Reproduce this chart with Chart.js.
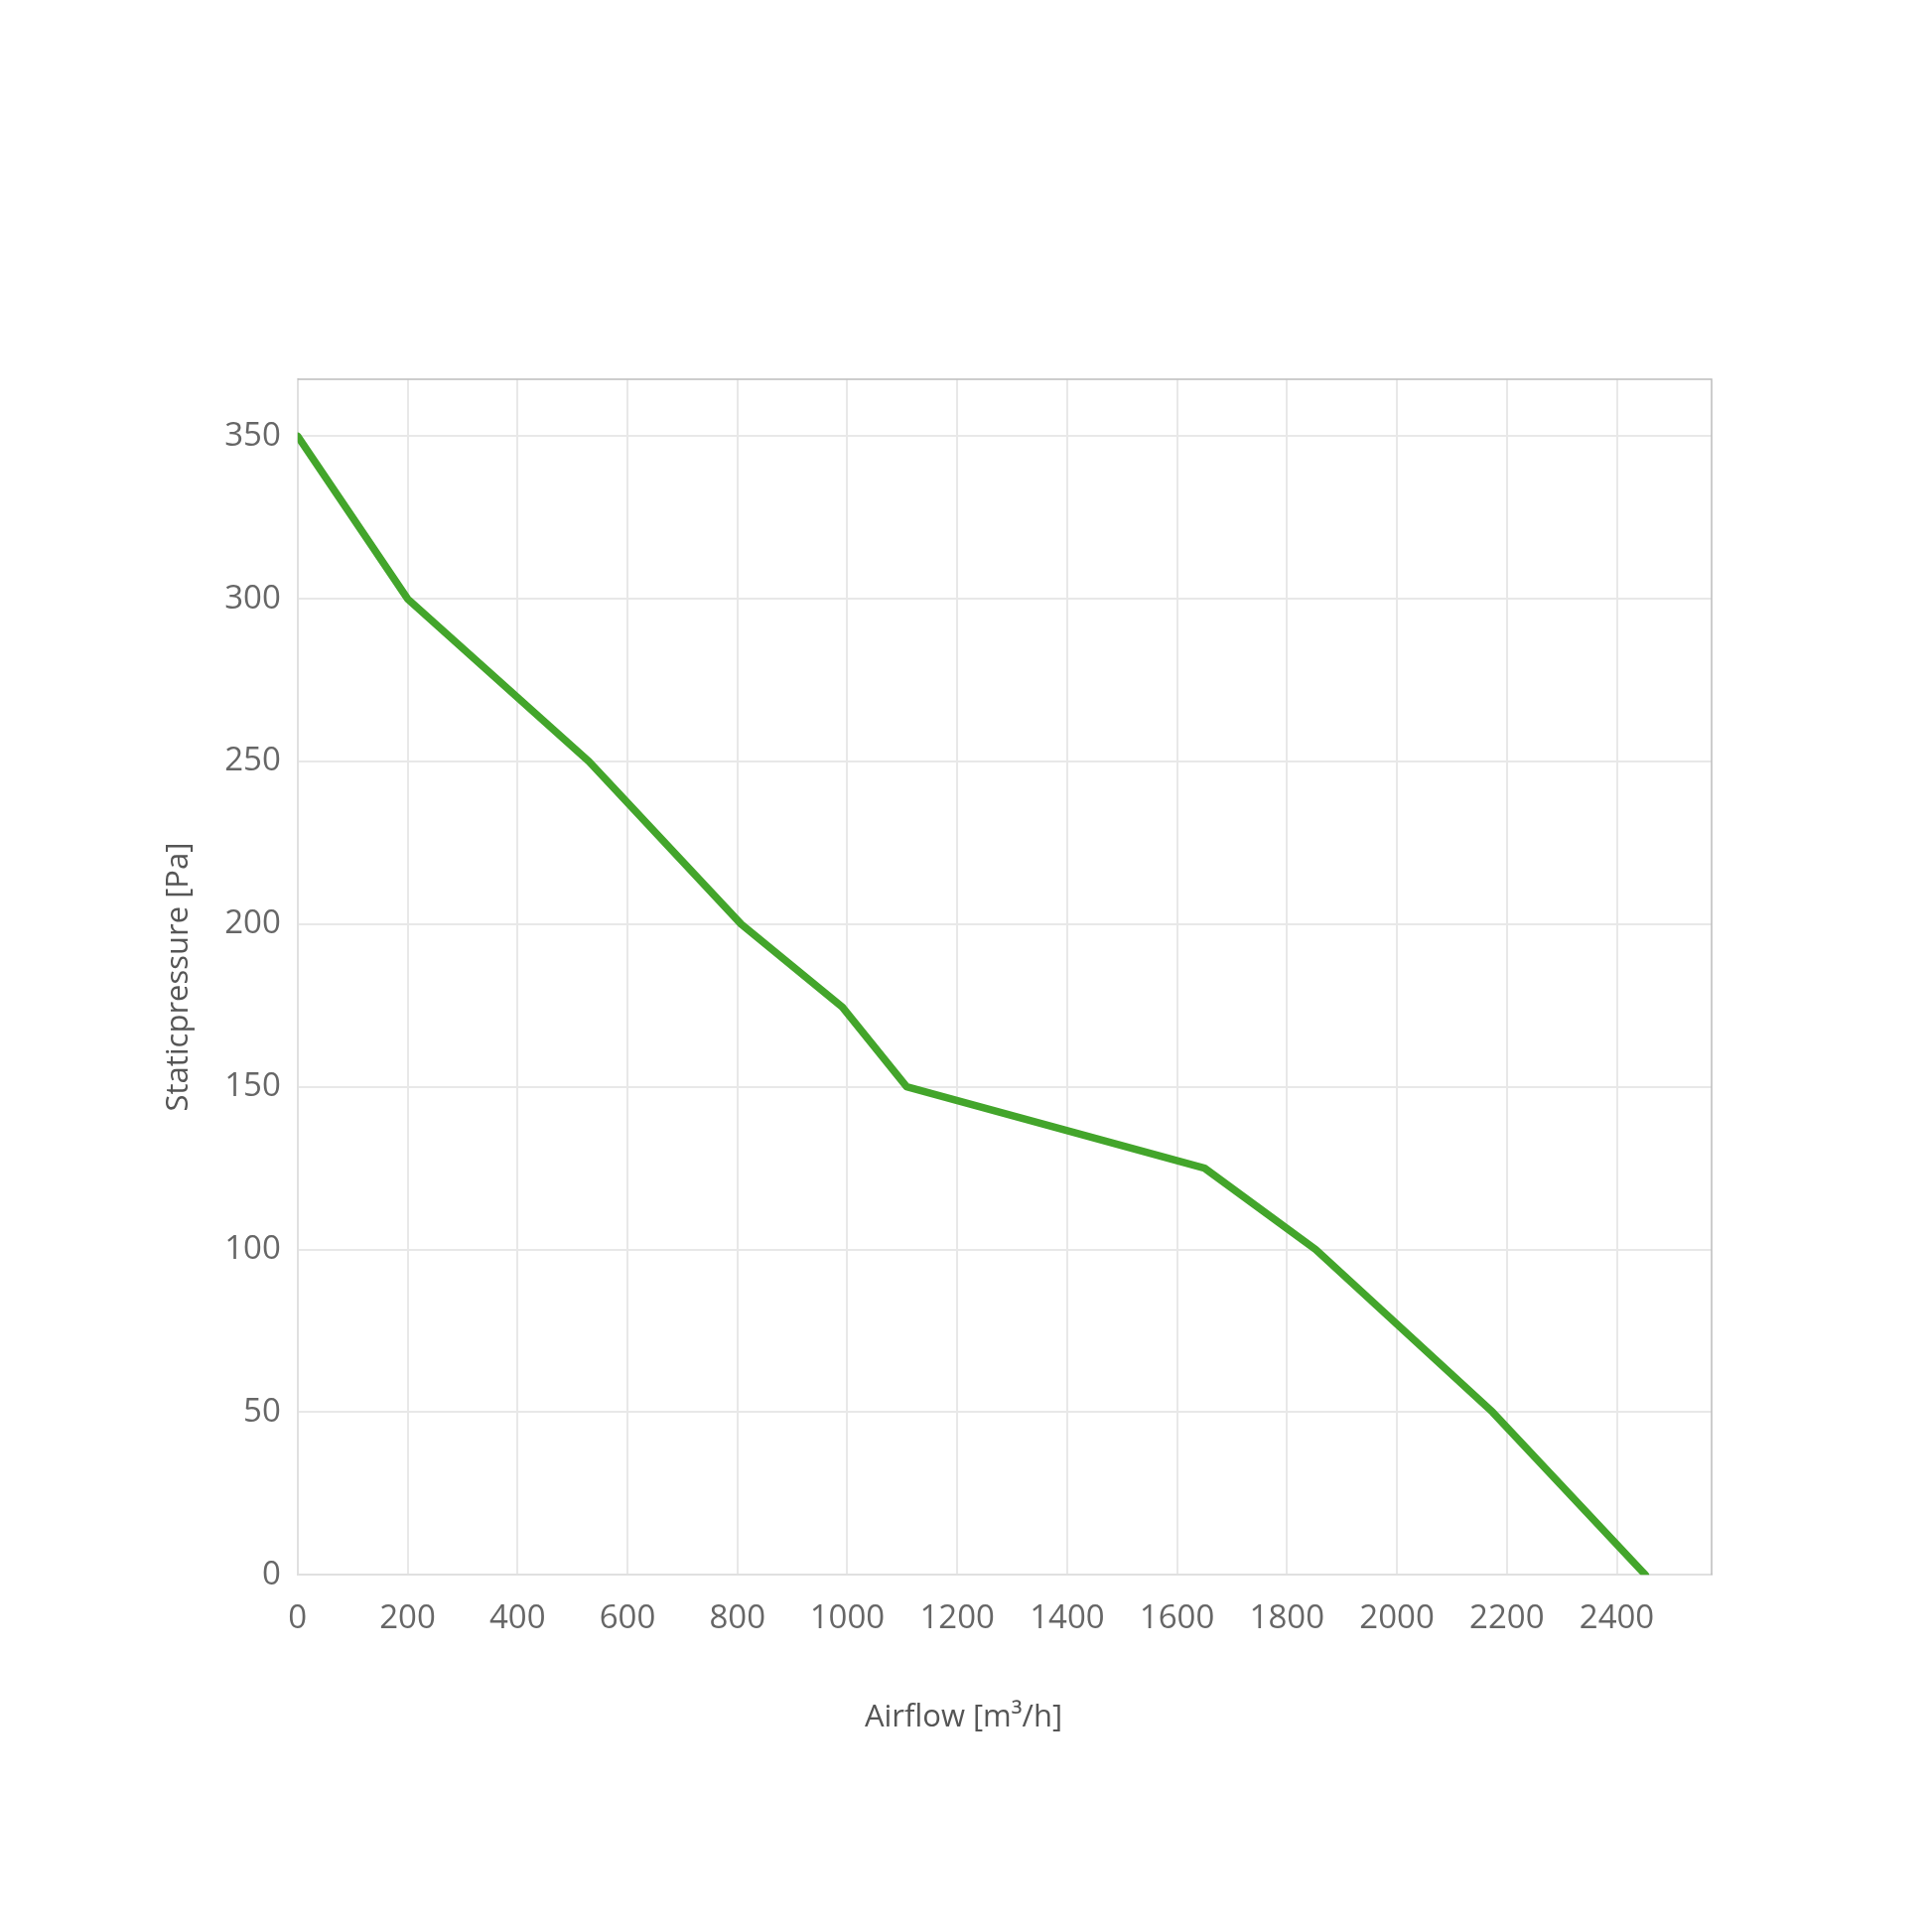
<!DOCTYPE html>
<html>
<head>
<meta charset="utf-8">
<script src="https://cdn.jsdelivr.net/npm/chart.js@4/dist/chart.umd.min.js"></script>
<style>
  html, body { margin: 0; padding: 0; background: #ffffff; }
  #wrap { width: 1946px; height: 1946px; }
</style>
</head>
<body>
<div id="wrap"><canvas id="c" width="1946" height="1946"></canvas></div>
<script>
// Data
const airflow = [0, 200, 530, 807, 991, 1108, 1650, 1852, 2174, 2452];
const staticPressure = [350, 300, 250, 200, 174.5, 150, 125, 100, 50, 0];
const xTickLabels = [0, 200, 400, 600, 800, 1000, 1200, 1400, 1600, 1800, 2000, 2200, 2400];
const yTickLabels = [0, 50, 100, 150, 200, 250, 300, 350];
const xTitle = 'Airflow [m³/h]';
const yTitle = 'Staticpressure [Pa]';
const seriesName = 'Static pressure';

const points = airflow.map((x, i) => ({ x: x, y: staticPressure[i] }));

const fontFamily = '"Open Sans", "Noto Sans", sans-serif';

const frame = {
  id: 'frame',
  afterDraw(chart) {
    const a = chart.chartArea, ctx = chart.ctx;
    ctx.save();
    ctx.strokeStyle = '#bdbdbd';
    ctx.lineWidth = 1.5;
    ctx.beginPath();
    ctx.moveTo(a.left, a.top);
    ctx.lineTo(a.right, a.top);
    ctx.lineTo(a.right, a.bottom);
    ctx.stroke();
    ctx.restore();
  }
};

new Chart(document.getElementById('c'), {
  type: 'line',
  data: {
    datasets: [{
      label: seriesName,
      data: points,
      borderColor: '#43a52b',
      backgroundColor: '#43a52b',
      borderWidth: 7.5,
      pointRadius: 0,
      tension: 0,
      borderJoinStyle: 'round',
      borderCapStyle: 'round',
      fill: false
    }]
  },
  options: {
    responsive: false,
    animation: false,
    events: [],
    layout: { padding: { left: 152, right: 157, top: 382, bottom: 187 } },
    plugins: {
      legend: { display: false },
      tooltip: { enabled: false },
      title: {
        display: true,
        position: 'bottom',
        text: xTitle,
        color: '#555555',
        font: { family: fontFamily, size: 31, weight: 'normal' },
        padding: { top: 36, bottom: 10 }
      }
    },
    scales: {
      x: {
        type: 'linear',
        min: 0,
        max: 2572.5,
        afterBuildTicks: s => { s.ticks = xTickLabels.map(v => ({ value: v })); },
        ticks: {
          color: '#666666',
          font: { family: fontFamily, size: 33 },
          padding: 25,
          maxRotation: 0,
          autoSkip: false,
          callback: v => String(v)
        },
        grid: { color: '#e8e8e8', lineWidth: 2, drawTicks: false },
        border: { color: '#e0e0e0', width: 2 }
      },
      y: {
        type: 'linear',
        min: 0,
        max: 367.5,
        afterBuildTicks: s => { s.ticks = yTickLabels.map(v => ({ value: v })); },
        ticks: {
          color: '#666666',
          font: { family: fontFamily, size: 33 },
          padding: 17,
          callback: v => String(v)
        },
        grid: { color: '#e8e8e8', lineWidth: 2, drawTicks: false },
        border: { color: '#e0e0e0', width: 2 },
        title: {
          display: true,
          text: yTitle,
          color: '#555555',
          font: { family: fontFamily, size: 31 },
          padding: 10
        }
      },
      y2: {
        type: 'linear',
        position: 'right',
        display: true,
        ticks: { display: false },
        grid: { display: false, drawTicks: false },
        border: { display: false },
        afterFit: s => { s.width = 65; }
      }
    }
  },
  plugins: [frame]
});
</script>
</body>
</html>
